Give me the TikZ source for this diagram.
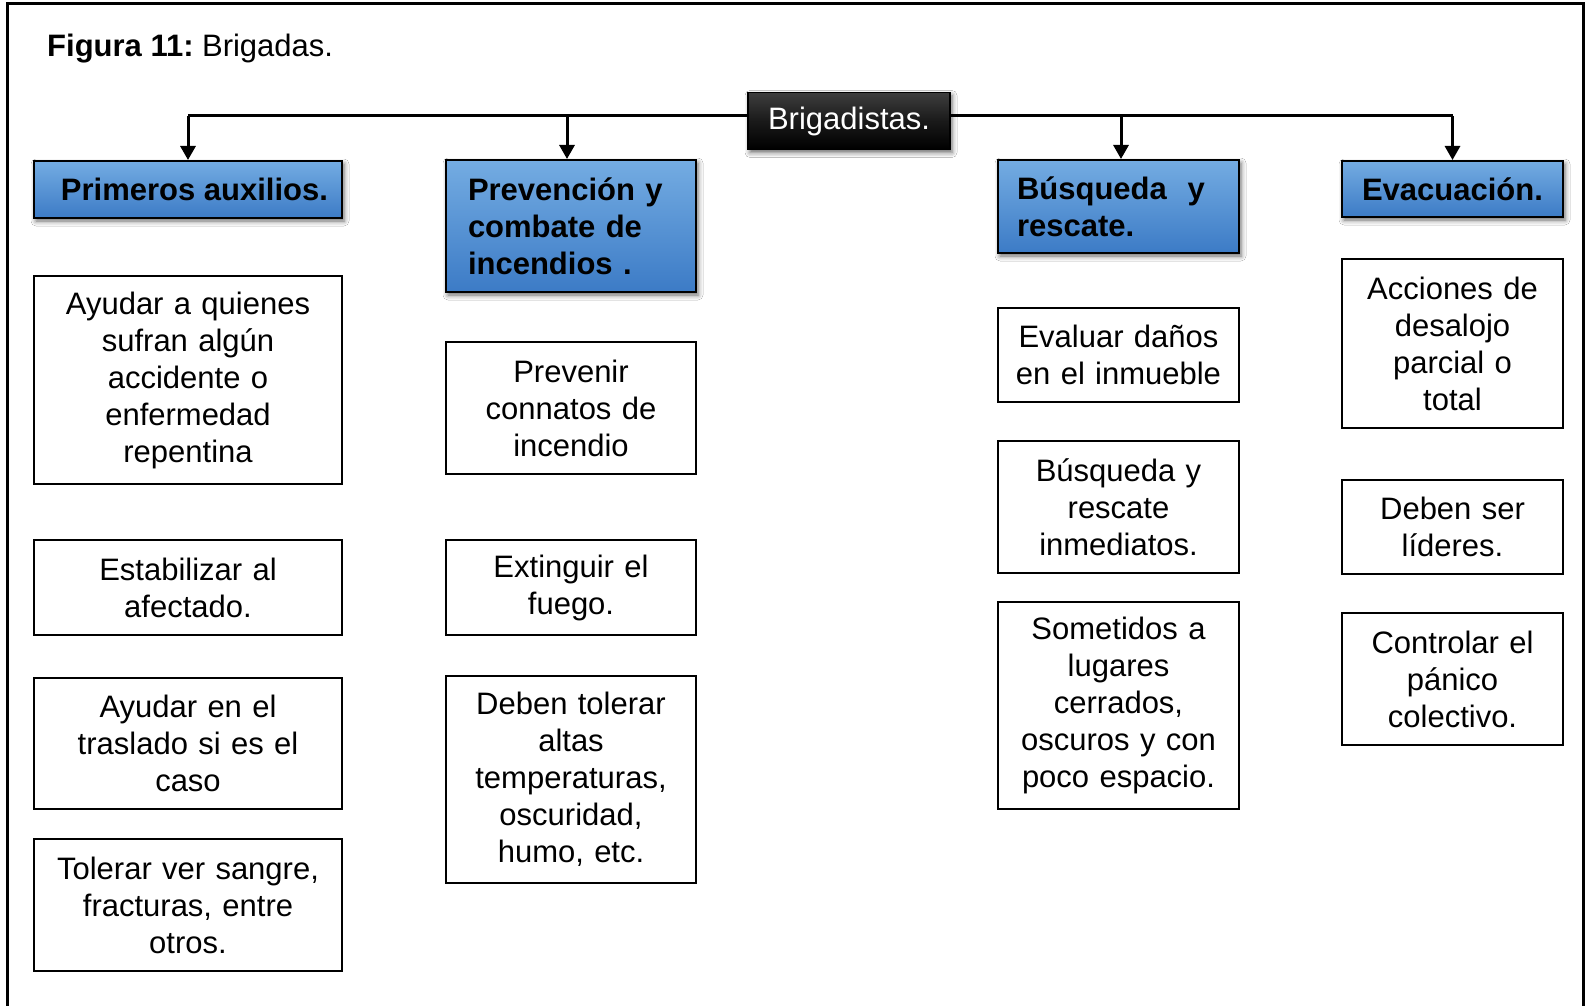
\documentclass[tikz,border=0pt]{standalone}
\usepackage{fontspec}
\setmainfont{Liberation Sans}
\usetikzlibrary{arrows.meta,shadows.blur}
\definecolor{blueT}{RGB}{116,172,226}
\definecolor{blueB}{RGB}{60,123,198}
\definecolor{brigT}{RGB}{62,62,62}
\begin{document}
\begin{tikzpicture}[x=1pt,y=-1pt,
  every node/.style={font=\fontsize{31}{37}\selectfont},
  wbox/.style={draw=black, line width=2pt, fill=white, align=center, inner sep=0pt},
  hbox/.style={draw=black, line width=2pt, top color=blueT, bottom color=blueB,
    font=\fontsize{31}{37}\selectfont\bfseries, inner sep=0pt,
    blur shadow={shadow xshift=2pt, shadow yshift=-3pt, shadow blur radius=5pt, shadow opacity=60}},
  bbox/.style={draw=black, line width=1.5pt, top color=brigT, bottom color=black, middle color=black!90,
    text=white, inner sep=0pt,
    blur shadow={shadow xshift=2pt, shadow yshift=-3pt, shadow blur radius=5pt, shadow opacity=60}},
  arr/.style={line width=3pt, -{Triangle[width=15pt,length=14pt]}},
  hline/.style={line width=3pt},
]
\useasboundingbox (0,0) rectangle (1587,1006);
\fill[white] (0,0) rectangle (1587,1006);
\draw[line width=3pt] (7,1012) -- (7,4) -- (1583,4) -- (1583,1012);

\node[anchor=base west, inner sep=0pt] (title) at (47,57) {\textbf{Figura 11:}\hspace{-3pt} Brigadas.};

\coordinate (hl) at (0,116);

% top node
\node[bbox, minimum width=202pt, minimum height=57pt] (brig) at (849,121) {Brigadistas.};

% headers
\node[hbox, minimum width=308pt, minimum height=57pt] (prim) at (188,189.5) {\hspace*{13pt}Primeros auxilios.};
\node[hbox, minimum width=250pt, minimum height=132pt, text width=206pt, inner xsep=22pt, align=left] (prev) at (571,226) {Prevención y\\combate de\\incendios .};
\node[hbox, minimum width=241pt, minimum height=93pt, text width=203pt, inner xsep=19pt, align=left] (busq) at (1118.5,206.5) {Búsqueda\ \ y\\rescate.};
\node[hbox, minimum width=221pt, minimum height=56pt] (evac) at (1452.5,189) {Evacuación.};

% connectors
\draw[hline] (brig.west |- hl) -- (prim.north |- hl);
\draw[arr] (prim.north |- hl) -- (prim.north);
\draw[arr] ([xshift=-4pt]prev.north |- hl) -- ([xshift=-4pt]prev.north);
\draw[hline] (brig.east |- hl) -- (evac.north |- hl);
\draw[arr] ([xshift=2.5pt]busq.north |- hl) -- ([xshift=2.5pt]busq.north);
\draw[arr] (evac.north |- hl) -- (evac.north);

% column 1
\node[wbox, minimum width=308pt, minimum height=208pt, text width=288pt] (c1a) at (188,380) {Ayudar a quienes\\sufran algún\\accidente o\\enfermedad\\repentina};
\node[wbox, minimum width=308pt, minimum height=95pt, text width=288pt] (c1b) at (188,587.5) {Estabilizar al\\afectado.};
\node[wbox, minimum width=308pt, minimum height=131pt, text width=288pt] (c1c) at (188,743.5) {Ayudar en el\\traslado si es el\\caso};
\node[wbox, minimum width=308pt, minimum height=132pt, text width=288pt] (c1d) at (188,905) {Tolerar ver sangre,\\fracturas, entre\\otros.};

% column 2
\node[wbox, minimum width=250pt, minimum height=132pt, text width=230pt] (c2a) at (571,408) {Prevenir\\connatos de\\incendio};
\node[wbox, minimum width=250pt, minimum height=95pt, text width=230pt] (c2b) at (571,587.5) {Extinguir el\\fuego.};
\node[wbox, minimum width=250pt, minimum height=207pt, text width=230pt] (c2c) at (571,779.5) {Deben tolerar\\altas\\temperaturas,\\oscuridad,\\humo, etc.};

% column 3
\node[wbox, minimum width=241pt, minimum height=94pt, text width=221pt] (c3a) at (1118.5,355) {Evaluar daños\\en el inmueble};
\node[wbox, minimum width=241pt, minimum height=132pt, text width=221pt] (c3b) at (1118.5,507) {Búsqueda y\\rescate\\inmediatos.};
\node[wbox, minimum width=241pt, minimum height=207pt, text width=221pt] (c3c) at (1118.5,705.5) {Sometidos a\\lugares\\cerrados,\\oscuros y con\\poco espacio.};

% column 4
\node[wbox, minimum width=221pt, minimum height=169pt, text width=201pt] (c4a) at (1452.5,343.5) {Acciones de\\desalojo\\parcial o\\total};
\node[wbox, minimum width=221pt, minimum height=94pt, text width=201pt] (c4b) at (1452.5,527) {Deben ser\\líderes.};
\node[wbox, minimum width=221pt, minimum height=132pt, text width=201pt] (c4c) at (1452.5,679) {Controlar el\\pánico\\colectivo.};
\end{tikzpicture}
\end{document}
